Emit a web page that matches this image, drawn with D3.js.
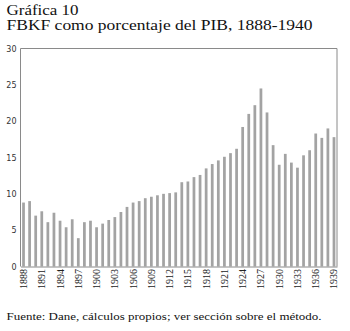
<!DOCTYPE html>
<html><head><meta charset="utf-8">
<script src="https://cdn.jsdelivr.net/npm/d3@7"></script>
<style>body{margin:0;background:#fff}svg{display:block}
.serif{font-family:"Liberation Serif","Times New Roman","DejaVu Serif",serif}
</style>
</head><body>
<script>
const years = [1888,1889,1890,1891,1892,1893,1894,1895,1896,1897,1898,1899,1900,1901,1902,1903,1904,1905,1906,1907,1908,1909,1910,1911,1912,1913,1914,1915,1916,1917,1918,1919,1920,1921,1922,1923,1924,1925,1926,1927,1928,1929,1930,1931,1932,1933,1934,1935,1936,1937,1938,1939];
const fbkf = [8.8,9.0,7.0,7.6,6.1,7.4,6.3,5.4,6.5,3.9,6.1,6.3,5.4,5.9,6.4,6.8,7.5,8.2,8.8,9.0,9.2,9.4,9.6,9.8,10.0,10.1,10.2,11.6,11.7,12.3,12.6,13.5,14.1,14.6,15.1,15.6,16.2,19.2,21.0,22.2,24.5,21.2,16.7,14.0,15.5,14.3,13.6,15.3,16.0,18.3,17.7,19.0,17.8].slice(0);
fbkf.splice(20,1);
const yTicks = [0,5,10,15,20,25,30];
const xTickYears = [1888,1891,1894,1897,1900,1903,1906,1909,1912,1915,1918,1921,1924,1927,1930,1933,1936,1939];
const titleLines = ["Gráfica 10","FBKF como porcentaje del PIB, 1888-1940"];
const sourceText = "Fuente: Dane, cálculos propios; ver sección sobre el método.";

const W = 350, H = 331;
const m = {left:20.5, top:48.5, right:337, bottom:266.5};
const svg = d3.select("body").append("svg").attr("width",W).attr("height",H);

const x = d3.scaleBand().domain(years).range([m.left, m.right]).paddingInner(0.55).paddingOuter(0.27);
const y = d3.scaleLinear().domain([0,30]).range([m.bottom, m.top]);

svg.append("g").selectAll("rect").data(years).join("rect")
  .attr("x", d => x(d))
  .attr("width", x.bandwidth())
  .attr("y", (d,i) => y(fbkf[i]))
  .attr("height", (d,i) => y(0) - y(fbkf[i]))
  .attr("fill", "#a3a3a3");

svg.append("path")
  .attr("d", `M${m.left},${m.bottom}V${m.top}H${m.right}V${m.bottom}`)
  .attr("fill","none").attr("stroke","#8a8a8a").attr("stroke-width",1);

const yAxis = d3.axisLeft(y).tickValues(yTicks).tickSize(0).tickPadding(4);
const gy = svg.append("g").attr("transform",`translate(${m.left},0)`).call(yAxis);
gy.select(".domain").remove();
gy.selectAll("text").attr("font-family","'DejaVu Sans', sans-serif").attr("font-size","8px").attr("fill","#333");

const xAxis = d3.axisBottom(x).tickValues(xTickYears).tickSize(0).tickPadding(0);
const gx = svg.append("g").attr("transform",`translate(0,${m.bottom})`).call(xAxis);
gx.attr("font-family",null);
gx.select(".domain").attr("stroke","#8a8a8a");
gx.selectAll("text")
  .attr("class","serif").attr("font-size","10px").attr("fill","#222")
  .attr("transform","rotate(-90)")
  .attr("text-anchor","end")
  .attr("x",-2.5).attr("y",0).attr("dy","0.35em");

svg.append("text").attr("class","serif").attr("x",6.5).attr("y",14.5).text(titleLines[0])
  .attr("font-size","14px").attr("fill","#111")
  .attr("textLength",72).attr("lengthAdjust","spacingAndGlyphs");
svg.append("text").attr("class","serif").attr("x",6.5).attr("y",30).text(titleLines[1])
  .attr("font-size","14px").attr("fill","#111")
  .attr("textLength",306).attr("lengthAdjust","spacingAndGlyphs");
svg.append("text").attr("class","serif").attr("x",6.5).attr("y",320).text(sourceText)
  .attr("font-size","10.5px").attr("fill","#111")
  .attr("textLength",315).attr("lengthAdjust","spacingAndGlyphs");
</script>
</body></html>
